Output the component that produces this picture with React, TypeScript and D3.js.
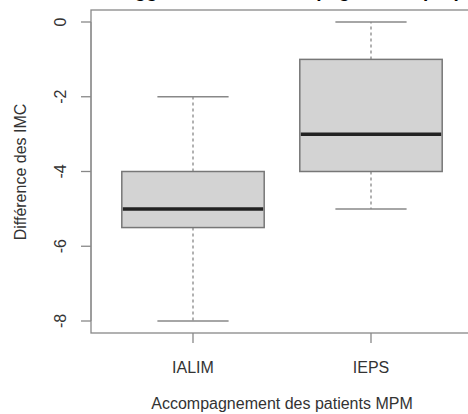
import * as d3 from "d3";
import { useEffect, useRef } from "react";

const groups = ["IALIM", "IEPS"];
const mins = [-8, -5];
const q1s = [-5.5, -4];
const medians = [-5, -3];
const q3s = [-4, -1];
const maxs = [-2, 0];
const yTicks = [0, -2, -4, -6, -8];

function App() {
  const svgRef = useRef<SVGSVGElement>(null);
  const width = 468;
  const height = 414;

  useEffect(() => {
    const svg = d3.select(svgRef.current);
    svg.selectAll("*").remove();

    // group index 1..2 -> pixel centre
    const x = d3.scaleLinear().domain([1, 2]).range([193, 371]);
    const y = d3.scaleLinear().domain([0, -8]).range([22, 321]);
    const step = x(2) - x(1);
    const boxW = step * 0.8;
    const capW = boxW / 2;

    const font = "Liberation Sans, Arial, sans-serif";
    const gray = "#777";

    // title, cut off at the top edge like the original (only descenders show)
    svg.append("text")
      .attr("x", 285)
      .attr("y", -3)
      .attr("text-anchor", "middle")
      .attr("font-family", font)
      .attr("font-weight", "bold")
      .attr("font-size", 19)
      .text("IMC suggéré selon l'accompagnement proposé");

    // plot frame
    svg.append("rect")
      .attr("x", 91)
      .attr("y", 10)
      .attr("width", 400)
      .attr("height", 323)
      .attr("fill", "none")
      .attr("stroke", "#888")
      .attr("stroke-width", 1.3);

    const data = groups.map((g, i) => ({
      g, i: i + 1, min: mins[i], q1: q1s[i], med: medians[i], q3: q3s[i], max: maxs[i]
    }));

    const box = svg.selectAll(".box").data(data).join("g").attr("class", "box");

    // whiskers
    box.append("line")
      .attr("x1", d => x(d.i)).attr("x2", d => x(d.i))
      .attr("y1", d => y(d.q3)).attr("y2", d => y(d.max))
      .attr("stroke", "#888").attr("stroke-width", 1.3).attr("stroke-dasharray", "3,3");
    box.append("line")
      .attr("x1", d => x(d.i)).attr("x2", d => x(d.i))
      .attr("y1", d => y(d.q1)).attr("y2", d => y(d.min))
      .attr("stroke", "#888").attr("stroke-width", 1.3).attr("stroke-dasharray", "3,3");
    box.append("line")
      .attr("x1", d => x(d.i) - capW / 2).attr("x2", d => x(d.i) + capW / 2)
      .attr("y1", d => y(d.max)).attr("y2", d => y(d.max))
      .attr("stroke", "#888").attr("stroke-width", 1.5);
    box.append("line")
      .attr("x1", d => x(d.i) - capW / 2).attr("x2", d => x(d.i) + capW / 2)
      .attr("y1", d => y(d.min)).attr("y2", d => y(d.min))
      .attr("stroke", "#888").attr("stroke-width", 1.5);

    box.append("rect")
      .attr("x", d => x(d.i) - boxW / 2)
      .attr("width", boxW)
      .attr("y", d => y(d.q3))
      .attr("height", d => y(d.q1) - y(d.q3))
      .attr("fill", "#d3d3d3")
      .attr("stroke", gray)
      .attr("stroke-width", 1.5);

    box.append("line")
      .attr("x1", d => x(d.i) - boxW / 2 + 1).attr("x2", d => x(d.i) + boxW / 2 - 1)
      .attr("y1", d => y(d.med)).attr("y2", d => y(d.med))
      .attr("stroke", "#222").attr("stroke-width", 3.5);

    // y axis
    const yAx = svg.append("g");
    yAx.append("line")
      .attr("x1", 91).attr("x2", 91)
      .attr("y1", y(0)).attr("y2", y(-8))
      .attr("stroke", "#888");
    yAx.selectAll(".yt").data(yTicks).join("line")
      .attr("x1", 81).attr("x2", 91)
      .attr("y1", d => y(d)).attr("y2", d => y(d))
      .attr("stroke", "#888").attr("stroke-width", 1.3);
    yAx.selectAll(".yl").data(yTicks).join("text")
      .attr("transform", d => `translate(66,${y(d)}) rotate(-90)`)
      .attr("text-anchor", "middle")
      .attr("font-family", font)
      .attr("font-size", 16)
      .attr("fill", "#333")
      .text(d => String(d));

    // x axis
    svg.selectAll(".xt").data(data).join("line")
      .attr("x1", d => x(d.i)).attr("x2", d => x(d.i))
      .attr("y1", 333).attr("y2", 343)
      .attr("stroke", "#888").attr("stroke-width", 1.3);
    svg.selectAll(".xl").data(data).join("text")
      .attr("x", d => x(d.i))
      .attr("y", 373)
      .attr("text-anchor", "middle")
      .attr("font-family", font)
      .attr("font-size", 16)
      .attr("fill", "#333")
      .text(d => d.g);

    svg.append("text")
      .attr("x", 282)
      .attr("y", 409)
      .attr("text-anchor", "middle")
      .attr("font-family", font)
      .attr("font-size", 16)
      .attr("fill", "#333")
      .text("Accompagnement des patients MPM");

    svg.append("text")
      .attr("transform", `translate(26,172) rotate(-90)`)
      .attr("text-anchor", "middle")
      .attr("font-family", font)
      .attr("font-size", 16)
      .attr("fill", "#333")
      .text("Différence des IMC");
  }, []);

  return (
    <svg ref={svgRef} width={width} height={height}
      style={{ position: "absolute", left: 0, top: 0, background: "#fff" }} />
  );
}

export default App;
